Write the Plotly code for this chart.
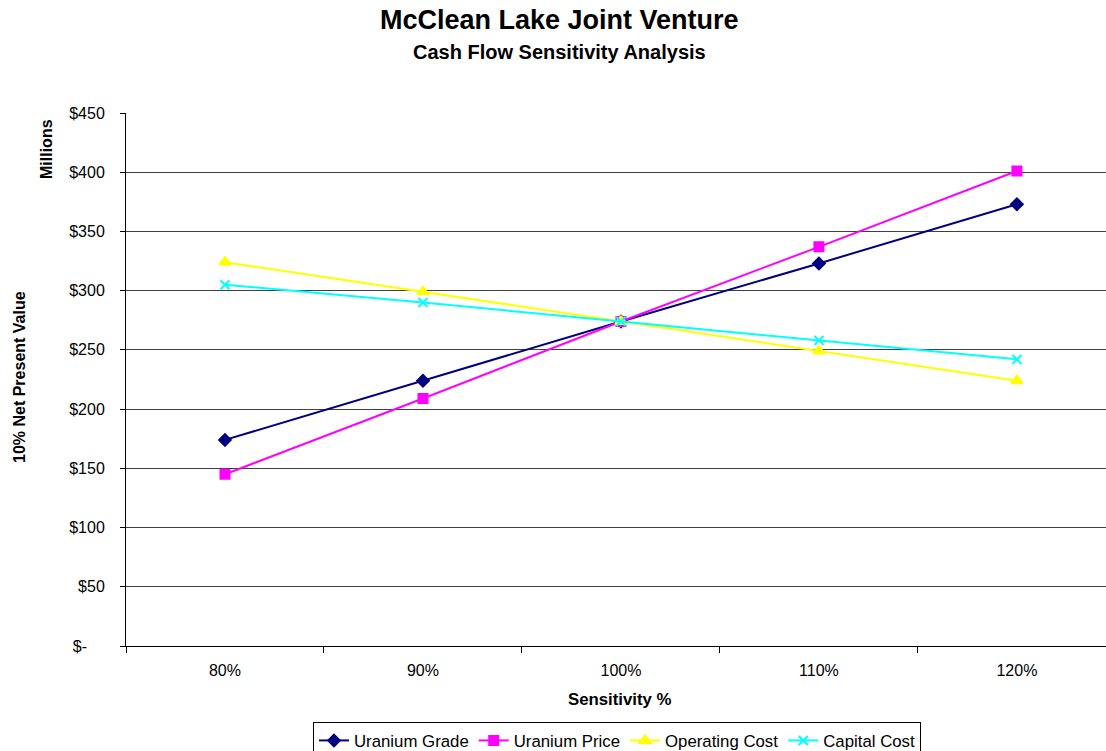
import plotly.graph_objects as go

categories = ["80%", "90%", "100%", "110%", "120%"]
uranium_grade = [174, 224, 274, 323, 373]
uranium_price = [145, 209, 274, 337, 401]
operating_cost = [324, 299, 274, 249, 224]
capital_cost = [305, 290, 274, 258, 242]
y_tick_vals = [0, 50, 100, 150, 200, 250, 300, 350, 400, 450]
y_tick_text = ["$-\u00a0\u00a0\u00a0\u00a0", "$50", "$100", "$150", "$200", "$250",
               "$300", "$350", "$400", "$450"]

font_family = "Liberation Sans, Arial, sans-serif"

series = [
    ("Uranium Grade", uranium_grade, "#000080", "diamond", 9),
    ("Uranium Price", uranium_price, "#FF00FF", "square", 9),
    ("Operating Cost", operating_cost, "#FFFF00", "triangle-up", 10),
    ("Capital Cost", capital_cost, "#00FFFF", "x-thin", 9),
]

fig = go.Figure()
for name, vals, color, sym, size in series:
    fig.add_trace(go.Scatter(
        x=categories, y=vals, name=name, mode="lines+markers",
        line=dict(color=color, width=2),
        marker=dict(symbol=sym, size=size, color=color,
                    line=dict(color=color, width=2)),
    ))

fig.update_layout(
    width=1106, height=751,
    paper_bgcolor="white", plot_bgcolor="white",
    margin=dict(l=126, r=0, t=113, b=105, autoexpand=False),
    font=dict(family=font_family, size=16, color="black"),
    showlegend=True,
    legend=dict(orientation="h", x=313 / 1106, xref="container", xanchor="left",
                y=1 - 722 / 751, yref="container", yanchor="top",
                bordercolor="black", borderwidth=1, font=dict(size=16.8),
                itemwidth=30, tracegroupgap=0, traceorder="normal"),
    annotations=[
        dict(text="<b>McClean Lake Joint Venture</b>", xref="paper", yref="paper",
             x=0.442, y=1.0, yshift=93, xanchor="center", yanchor="middle",
             showarrow=False, font=dict(size=27)),
        dict(text="<b>Cash Flow Sensitivity Analysis</b>", xref="paper", yref="paper",
             x=0.442, y=1.0, yshift=61, xanchor="center", yanchor="middle",
             showarrow=False, font=dict(size=20)),
        dict(text="<b>Millions</b>", xref="paper", yref="paper",
             x=0, xshift=-80, y=1.0, yshift=-36, xanchor="center", yanchor="middle",
             textangle=-90, showarrow=False, font=dict(size=16)),
        dict(text="<b>10% Net Present Value</b>", xref="paper", yref="paper",
             x=0, xshift=-107, y=(646 - 377) / 533, xanchor="center", yanchor="middle",
             textangle=-90, showarrow=False, font=dict(size=16)),
        dict(text="<b>Sensitivity %</b>", xref="paper", yref="paper",
             x=(620 - 126) / 980, y=0, yshift=-53, xanchor="center", yanchor="middle",
             showarrow=False, font=dict(size=16.8)),
    ],
    xaxis=dict(
        type="category", range=[-0.5, 4.45], tickson="boundaries",
        ticks="outside", ticklen=6, tickcolor="black", automargin=False,
        showline=True, linecolor="black", linewidth=1, showgrid=False,
        tickfont=dict(size=16), ticklabelstandoff=10,
    ),
    yaxis=dict(
        range=[0, 450], tickvals=y_tick_vals, ticktext=y_tick_text,
        ticks="outside", ticklen=5, tickcolor="black", automargin=False,
        showline=True, linecolor="black", linewidth=1,
        showgrid=True, gridcolor="#404040", gridwidth=1,
        zeroline=False,
        tickfont=dict(size=16), ticklabelstandoff=12,
    ),
)

fig.write_html("out.html", config={"displayModeBar": False},
               post_script="document.body.style.margin='0';document.body.style.overflow='hidden';")
